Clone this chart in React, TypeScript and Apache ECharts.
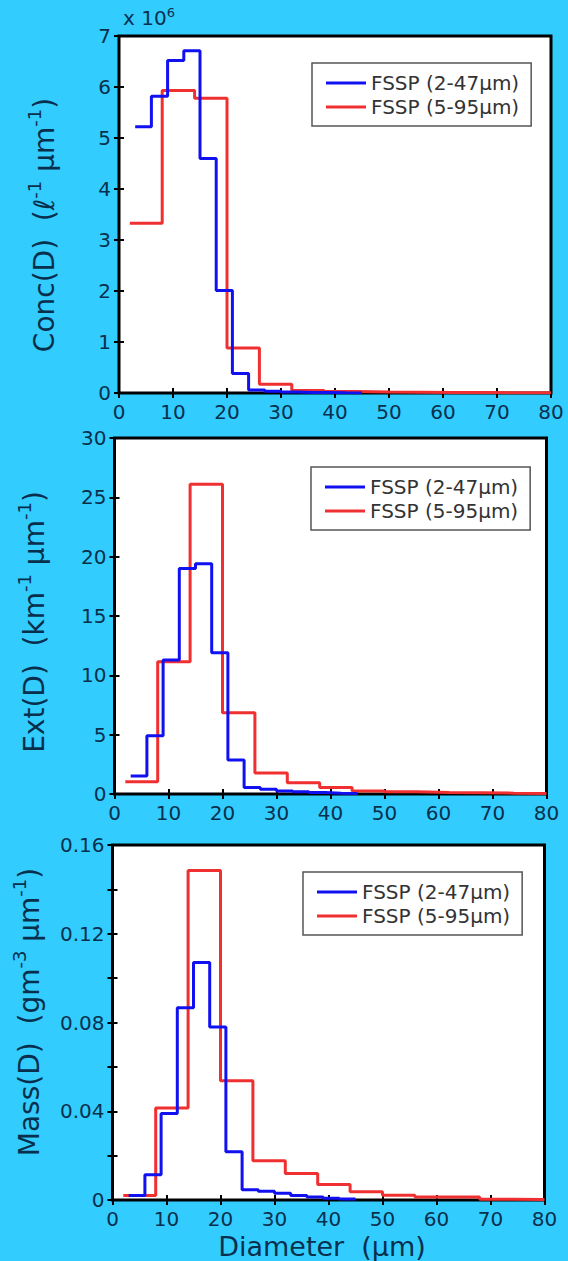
import React, { useEffect, useRef } from 'react';
import * as echarts from 'echarts';

// Bin edges (µm) of the two probe ranges
const edgesSmall = [3, 6, 9, 12, 15, 18, 21, 24, 27, 30, 33, 36, 39, 42, 45];
const edgesLarge = [2, 8, 14, 20, 26, 32, 38, 44, 50, 56, 62, 68, 74, 80];

// Concentration (×10^6 ℓ⁻¹ µm⁻¹)
const concSmall = [5.22, 5.82, 6.52, 6.71, 4.6, 2.01, 0.38, 0.06, 0.035, 0.02, 0.012, 0.008, 0.004, 0.002];
const concLarge = [3.33, 5.93, 5.78, 0.88, 0.17, 0.05, 0.03, 0.02, 0.015, 0.01, 0.008, 0.005, 0.004];
// Extinction (km⁻¹ µm⁻¹)
const extSmall = [1.52, 4.9, 11.3, 19.0, 19.4, 11.9, 2.86, 0.55, 0.4, 0.25, 0.18, 0.12, 0.07, 0.04];
const extLarge = [1.04, 11.15, 26.1, 6.85, 1.77, 0.95, 0.55, 0.25, 0.18, 0.13, 0.1, 0.07, 0.05];
// Mass (g m⁻³ µm⁻¹)
const massSmall = [0.002, 0.0114, 0.039, 0.0867, 0.107, 0.078, 0.0218, 0.0046, 0.004, 0.003, 0.002, 0.0013, 0.0008, 0.0004];
const massLarge = [0.002, 0.0415, 0.1485, 0.0538, 0.0177, 0.0119, 0.007, 0.0037, 0.0021, 0.0014, 0.0013, 0.0003, 0.0002];

const seriesNames = ['FSSP (2-47µm)', 'FSSP (5-95µm)'];
const xTickStep = 10;
const xMax = 80;
const yMaxes = [7, 30, 0.16];
const ySteps = [1, 5, 0.02];
const yLabelStep = [1, 5, 0.04];

const FONT = 'DejaVu Sans';
const INK = '#08304d';
const BLUE = '#1010f0';
const RED = '#f03030';

// stairs: horizontal run over each bin, final point closes the last bin
function stairs(edges: number[], values: number[]) {
  const pts = values.map((v, i) => [edges[i], v]);
  pts.push([edges[values.length], values[values.length - 1]]);
  return pts;
}

const grids = [
  { left: 119, top: 36, width: 432, height: 357 },
  { left: 114.5, top: 438, width: 432, height: 356 },
  { left: 112.5, top: 845, width: 432, height: 355 },
];
const legendPos = [
  { left: 312, top: 63 },
  { left: 311, top: 467 },
  { left: 303, top: 872 },
];

export default function App() {
  const ref = useRef<HTMLDivElement>(null);
  useEffect(() => {
    if (!ref.current) return;
    const chart = echarts.init(ref.current, null, { renderer: 'svg' });
    const data = [
      [concSmall, concLarge],
      [extSmall, extLarge],
      [massSmall, massLarge],
    ];

    const xAxis: any[] = [];
    const yAxis: any[] = [];
    const series: any[] = [];
    grids.forEach((_, i) => {
      const tick = { show: true, inside: true, length: 5, lineStyle: { color: '#000', width: 2 } };
      xAxis.push({
        type: 'value', gridIndex: i, min: 0, max: xMax, interval: xTickStep,
        axisLine: { show: false }, axisTick: tick, splitLine: { show: false },
        axisLabel: { fontFamily: FONT, fontSize: 20, lineHeight: 20, color: INK, margin: 9 },
      });
      xAxis.push({
        type: 'value', gridIndex: i, position: 'top', min: 0, max: xMax, interval: xTickStep,
        axisLine: { show: false }, axisTick: tick, splitLine: { show: false }, axisLabel: { show: false },
      });
      const step = yLabelStep[i];
      yAxis.push({
        type: 'value', gridIndex: i, min: 0, max: yMaxes[i], interval: ySteps[i],
        axisLine: { show: false }, axisTick: tick, splitLine: { show: false },
        axisLabel: {
          fontFamily: FONT, fontSize: 20, color: INK, margin: 8,
          formatter: (v: number) => {
            const k = v / step;
            return Math.abs(k - Math.round(k)) < 1e-6 ? String(+v.toFixed(4)) : '';
          },
        },
      });
      yAxis.push({
        type: 'value', gridIndex: i, position: 'right', min: 0, max: yMaxes[i], interval: ySteps[i],
        axisLine: { show: false }, axisTick: tick, splitLine: { show: false }, axisLabel: { show: false },
      });
      const [small, large] = data[i];
      series.push({
        name: seriesNames[0], type: 'line', step: 'end', symbol: 'none', xAxisIndex: i * 2, yAxisIndex: i * 2,
        data: stairs(edgesSmall, small), lineStyle: { color: BLUE, width: 3 }, itemStyle: { color: BLUE }, z: 3,
      });
      series.push({
        name: seriesNames[1], type: 'line', step: 'end', symbol: 'none', xAxisIndex: i * 2, yAxisIndex: i * 2,
        data: stairs(edgesLarge, large), lineStyle: { color: RED, width: 3 }, itemStyle: { color: RED }, z: 2,
      });
    });

    const legend = legendPos.map((p) => ({
      orient: 'vertical', left: p.left, top: p.top, data: seriesNames, selectedMode: false,
      backgroundColor: '#fff', borderColor: '#555', borderWidth: 1.5, padding: [10, 12, 9, 14],
      itemGap: 4, itemWidth: 40, itemHeight: 3, icon: 'rect',
      textStyle: { fontFamily: FONT, fontSize: 20, color: '#333' },
    }));

    const sup = { fontFamily: FONT, fontSize: 18, verticalAlign: 'top', fill: INK, color: INK };
    const base = { fontFamily: FONT, fontSize: 28, lineHeight: 38, fill: INK, color: INK };
    const ital = { ...base, fontStyle: 'italic' };
    const rich = { b: base, s: sup, i: ital };
    const yName = (x: number, y: number, text: string) => ({
      type: 'text', x, y, rotation: Math.PI / 2,
      style: { text, rich, align: 'center', verticalAlign: 'middle', textAlign: 'center', textVerticalAlign: 'middle' },
    });

    chart.setOption({
      animation: false,
      backgroundColor: '#33ccff',
      grid: grids.map((g) => ({ ...g, show: true, backgroundColor: '#fff', borderColor: '#000', borderWidth: 3, containLabel: false })),
      xAxis, yAxis, series, legend,
      graphic: [
        yName(44, 225, '{b|Conc(D)  (}{i|ℓ}{s|-1}{b| µm}{s|-1}{b|)}'),
        yName(34, 622, '{b|Ext(D)  (km}{s|-1}{b| µm}{s|-1}{b|)}'),
        yName(29, 1012, '{b|Mass(D)  (gm}{s|-3}{b| µm}{s|-1}{b|)}'),
        {
          type: 'text', x: 123, y: 18,
          style: {
            text: '{b|x 10}{s|6}', align: 'left', verticalAlign: 'middle', textAlign: 'left', textVerticalAlign: 'middle',
            rich: {
              b: { fontFamily: FONT, fontSize: 20, lineHeight: 24, fill: INK, color: INK },
              s: { fontFamily: FONT, fontSize: 13, verticalAlign: 'top', fill: INK, color: INK },
            },
          },
        },
        {
          type: 'text', x: 322, y: 1246,
          style: { text: 'Diameter  (µm)', fontFamily: FONT, fontSize: 27, lineHeight: 27, fill: INK, align: 'center', verticalAlign: 'middle', textAlign: 'center', textVerticalAlign: 'middle' },
        },
      ],
    });
    return () => chart.dispose();
  }, []);
  return <div ref={ref} style={{ position: 'fixed', left: 0, top: 0, width: 568, height: 1261 }} />;
}
